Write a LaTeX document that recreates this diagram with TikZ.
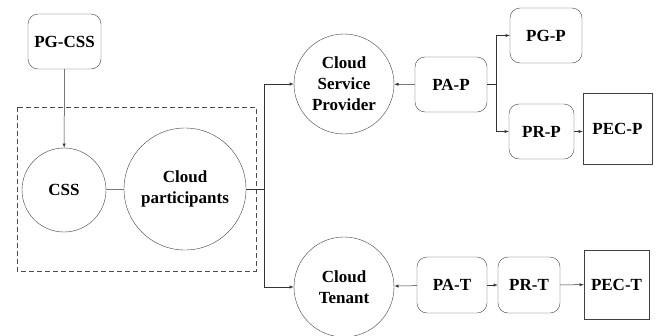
\documentclass[tikz,border=0pt]{standalone}
\usepackage{fontspec}
\setmainfont{Liberation Serif}
\begin{document}
\begin{tikzpicture}[x=1pt,y=-1pt,>=latex,
    every node/.style={font=\fontsize{17}{21}\selectfont\bfseries,align=center,inner sep=0pt},
    rbox/.style={draw=black!75,rounded corners=10pt,minimum height=55pt},
    sbox/.style={draw=black!75},
    role/.style={draw=black!75,circle},
    link/.style={draw=black!80,line width=0.5pt}]
    \useasboundingbox (0,0) rectangle (660,335);
    % left group
    \draw[dash pattern=on 5pt off 3pt,black!70] (17,107) rectangle (256,271);
    \node[rbox,minimum width=73pt] (pgcss) at (64.5,41.5) {PG-CSS};
    \node[role,minimum size=84pt] (css) at (64,190) {CSS};
    \node[role,minimum size=122pt] (cp) at (185,189) {Cloud\\participants};
    \coordinate (j1) at (264,189);
    % participants
    \node[role,minimum size=100pt] (csp) at (344,84) {Cloud\\Service\\Provider};
    \node[role,minimum size=100pt] (ct) at (344,287) {Cloud\\Tenant};
    % provider side
    \node[rbox,minimum width=72pt] (pap) at (451,84.5) {PA-P};
    \coordinate (j2) at (496,84.5);
    \node[rbox,minimum width=72pt] (pgp) at (546,35.5) {PG-P};
    \node[rbox,minimum width=65pt] (prp) at (541.5,131.5) {PR-P};
    \node[sbox,minimum width=69pt,minimum height=71pt] (pecp) at (617.5,128.5) {PEC-P};
    % tenant side
    \node[rbox,minimum width=70pt,minimum height=56pt] (pat) at (452,285) {PA-T};
    \node[rbox,minimum width=62pt,minimum height=56pt] (prt) at (529,285) {PR-T};
    \node[sbox,minimum width=65pt,minimum height=69pt] (pect) at (616.5,284.5) {PEC-T};
    % connectors
    \draw[link,->] (pgcss) -- (css);
    \draw[link] (css) -- (cp);
    \draw[link] (cp.east) -- (j1);
    \draw[link,->] (j1) |- (csp.west);
    \draw[link,->] (j1) |- (ct.west);
    \draw[link,->] (pap) -- (csp);
    \draw[link] (pap.east) -- (j2);
    \draw[link,->] (j2) |- (pgp.west);
    \draw[link,->] (j2) |- (prp.west);
    \draw[link,->] (prp.east) -- (prp.east -| pecp.west);
    \draw[link,->] (pat) -- (ct);
    \draw[link,->] (pat) -- (prt);
    \draw[link,->] (prt) -- (pect);
\end{tikzpicture}
\end{document}
